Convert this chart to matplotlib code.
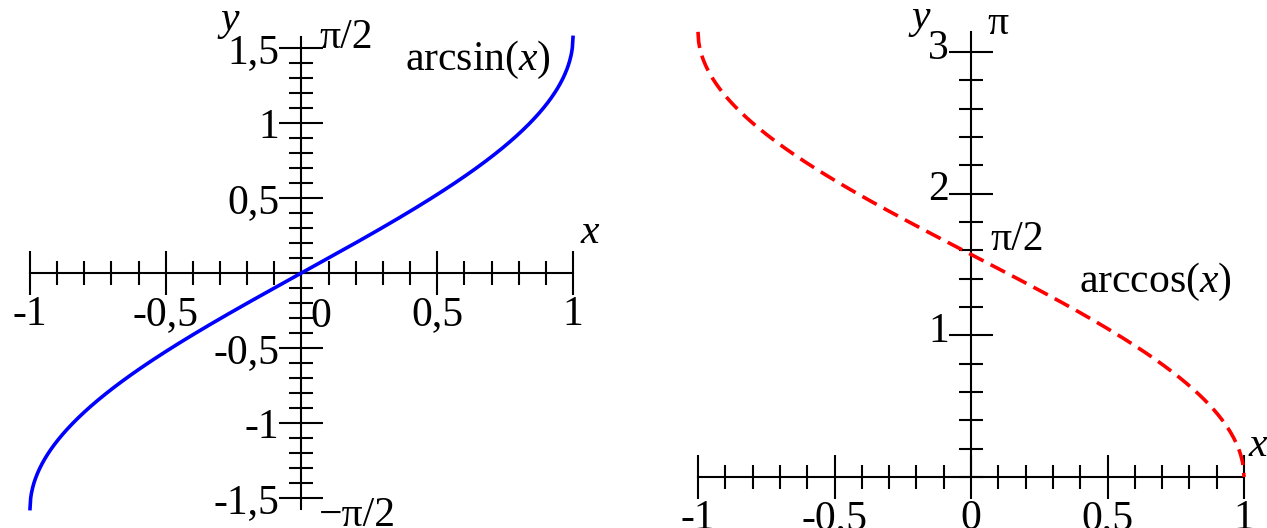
import numpy as np
import matplotlib
matplotlib.use("Agg")
import matplotlib.pyplot as plt
import matplotlib.transforms as mtransforms
from matplotlib.ticker import FixedLocator, FuncFormatter

plt.rcParams["font.family"] = ["Liberation Serif", "DejaVu Serif"]
plt.rcParams["mathtext.fontset"] = "custom"
plt.rcParams["mathtext.rm"] = "Liberation Serif"
plt.rcParams["mathtext.it"] = "Liberation Serif:italic"

# domain and sampled curves
x_domain = [-1.0, 1.0]
n_points = 801
asin_ticks_y = [-1.5, -1.0, -0.5, 0.5, 1.0, 1.5]
asin_ticks_x = [-1.0, -0.5, 0.5, 1.0]
acos_ticks_y = [1, 2, 3]
acos_ticks_x = [-1.0, -0.5, 0.0, 0.5, 1.0]

xs = np.linspace(x_domain[0], x_domain[1], n_points)
y_asin = np.arcsin(xs)
y_acos = np.arccos(xs)

FS = 30
W, H = 1267, 528


def comma(v, pos=None):
    return ("%g" % v).replace(".", ",")


def setup_axis(ax, xb, yb, xticks, yticks, yminor):
    for side in ("top", "right"):
        ax.spines[side].set_visible(False)
    ax.spines["left"].set_position(("data", 0))
    ax.spines["bottom"].set_position(("data", 0))
    ax.spines["left"].set_bounds(*yb)
    ax.spines["bottom"].set_bounds(*xb)
    for sp in ("left", "bottom"):
        ax.spines[sp].set_linewidth(1.5)
        ax.spines[sp].set_zorder(1)
    ax.set_xticks(xticks)
    ax.xaxis.set_minor_locator(FixedLocator(np.round(np.arange(-1, 1.001, 0.1), 6)))
    ax.set_yticks(yticks)
    ax.yaxis.set_minor_locator(FixedLocator(yminor))
    ax.xaxis.set_major_formatter(FuncFormatter(comma))
    ax.yaxis.set_major_formatter(FuncFormatter(comma))
    ax.tick_params(which="major", direction="inout", length=32, width=1.5,
                   labelsize=FS, pad=0)
    ax.tick_params(which="minor", direction="inout", length=17, width=1.5)
    ax.patch.set_visible(False)


fig = plt.figure(figsize=(W / 100, H / 100), dpi=100)

# left panel: arcsin
ax1 = fig.add_axes([0, 0, 640 / W, 1])
ax1.set_xlim((0 - 301.5) / 271.5, (640 - 301.5) / 271.5)
ax1.set_ylim(-(528 - 273) / 150, 273 / 150)
ax1.plot(xs, y_asin, color="#0000ff", lw=2.6, zorder=3)
setup_axis(ax1, (-1, 1), (-np.pi / 2, np.pi / 2), asin_ticks_x, asin_ticks_y,
           np.round(np.arange(-1.5, 1.501, 0.1), 6))
ax1.text(0.07, -0.29, "0", fontsize=FS, ha="center", va="center")
ax1.text(0.065, np.pi / 2, "π/2", fontsize=FS, ha="left", va="center")
ax1.text(0.065, -np.pi / 2 - 0.05, "\u2212π/2", fontsize=FS, ha="left",
         va="center")
ax1.text(-0.263, 1.69, "y", fontsize=FS, style="italic", ha="center",
         va="center")
ax1.text(1.063, 0.27, "x", fontsize=FS, style="italic", ha="center",
         va="center")
ax1.text(0.65, 1.42, r"$\mathrm{arcsin}(x)$", fontsize=FS, ha="center",
         va="center")

# right panel: arccos
ax2 = fig.add_axes([640 / W, 0, (W - 640) / W, 1])
ax2.set_xlim((640 - 971) / 273, (1267 - 971) / 273)
ax2.set_ylim(-(528 - 477) / 141.7, 477 / 141.7)
ax2.plot(xs, y_acos, color="#ff0000", lw=2.6, dashes=(4.5, 2.2), zorder=3)
setup_axis(ax2, (-1, 1), (0, np.pi), acos_ticks_x, acos_ticks_y,
           np.round(np.arange(0, 3.001, 0.2), 6))
# y labels sit a little above their ticks
shift = mtransforms.ScaledTranslation(0, 8 / 100, fig.dpi_scale_trans)
for lab in ax2.get_yticklabels():
    lab.set_transform(lab.get_transform() + shift)
ax2.text(0.07, np.pi / 2 + 0.1, "π/2", fontsize=FS, ha="left", va="center")
ax2.text(0.1, 3.2, "π", fontsize=FS, ha="center", va="center")
ax2.text(-0.185, 3.24, "y", fontsize=FS, style="italic", ha="center",
         va="center")
ax2.text(1.05, 0.22, "x", fontsize=FS, style="italic", ha="center",
         va="center")
ax2.text(0.674, 1.376, r"$\mathrm{arccos}(x)$", fontsize=FS, ha="center",
         va="center")

fig.savefig("out.png", dpi=100)
